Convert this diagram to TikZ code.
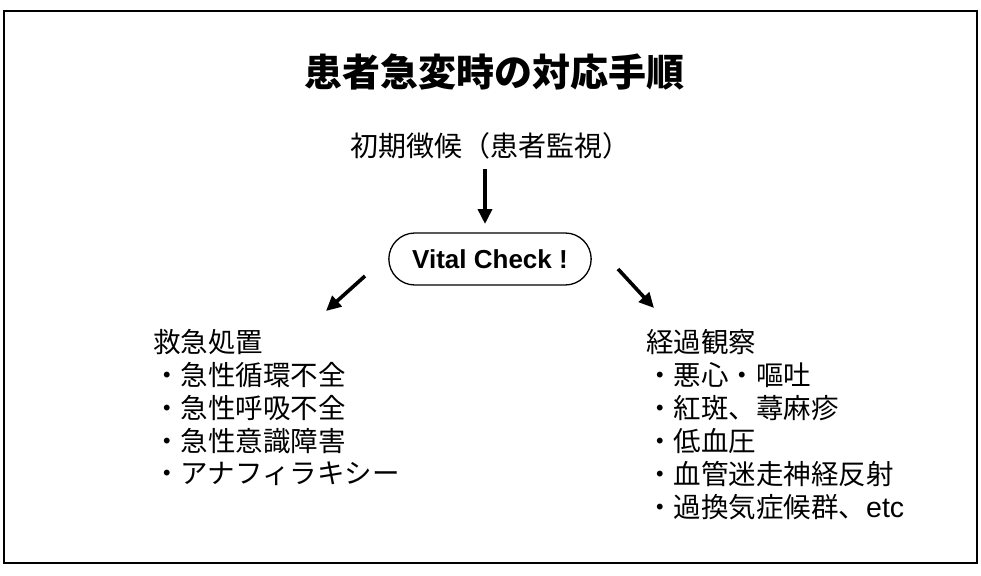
\documentclass[tikz,border=0pt]{standalone}
\usepackage{fontspec}
\newfontfamily\jp{Noto Sans CJK JP}
\newfontfamily\arialish{Liberation Sans}
\usetikzlibrary{shapes.misc,arrows.meta}
\begin{document}
\begin{tikzpicture}[x=1pt,y=-1pt,
  txt/.style={font=\jp\fontsize{27.5}{30}\selectfont, inner sep=0pt, anchor=west},
  arr/.style={line width=3.6pt, -{Triangle[length=15pt,width=14pt]}},
]
\useasboundingbox (0,0) rectangle (981,575);
\draw[line width=2.2pt] (4,11) rectangle (977,563);
\node[font=\jp\bfseries\fontsize{38}{42}\selectfont, inner sep=0pt] (title) at (494,72) {患者急変時の対応手順};
\node[font=\jp\fontsize{28}{32}\selectfont, inner sep=0pt] (init) at (490,146) {初期徴候（患者監視）};
\node[draw, rounded rectangle, line width=1.3pt, minimum width=209pt, minimum height=52pt,
      font=\arialish\bfseries\fontsize{26}{30}\selectfont] (vital) at (490,259) {Vital Check !};
\node[txt] (lh) at (153,342) {救急処置};
\node[txt] (l1) at (153,375) {・急性循環不全};
\node[txt] (l2) at (153,408) {・急性呼吸不全};
\node[txt] (l3) at (153,441) {・急性意識障害};
\node[txt] (l4) at (153,474) {・アナフィラキシー};
\node[txt] (rh) at (646,342) {経過観察};
\node[txt] (r1) at (646,375) {・悪心・嘔吐};
\node[txt] (r2) at (646,408) {・紅斑、蕁麻疹};
\node[txt] (r3) at (646,441) {・低血圧};
\node[txt] (r4) at (646,474) {・血管迷走神経反射};
\node[txt] (r5) at (646,507) {・過換気症候群、{\arialish\fontsize{28.5}{30}\selectfont etc}};
\coordinate (ds) at (485,169);
\coordinate (de) at (485,224);
\coordinate (ls) at (365,276);
\coordinate (le) at (326,311);
\coordinate (rs) at (618,269);
\coordinate (re) at (654,308);
\draw[arr] (ds) -- (de);
\draw[arr] (ls) -- (le);
\draw[arr] (rs) -- (re);
\end{tikzpicture}
\end{document}
